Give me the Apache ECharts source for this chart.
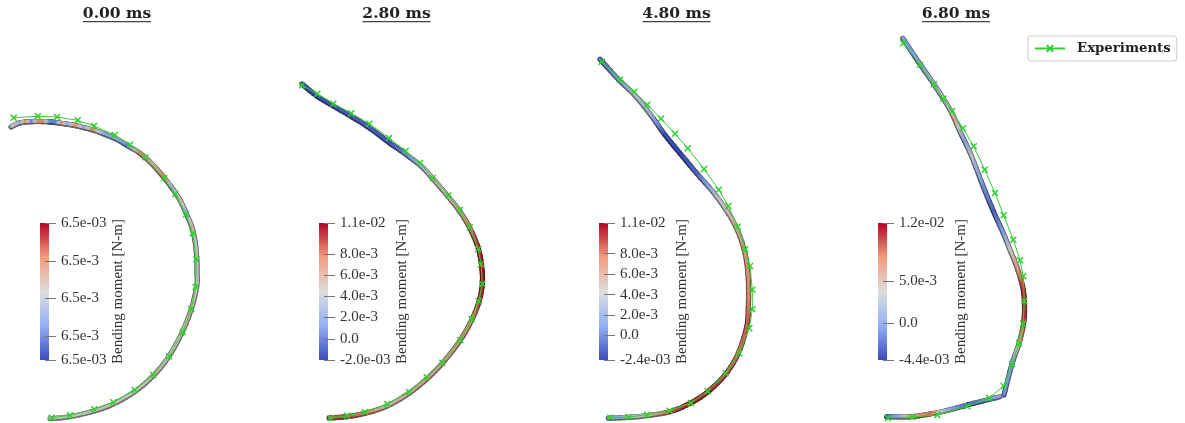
<!DOCTYPE html>
<html>
<head>
<meta charset="utf-8">
<style>
html,body{margin:0;padding:0;background:#fff}
#chart{width:1185px;height:423px;filter:blur(0.5px)}
</style>
<script src="https://cdn.jsdelivr.net/npm/echarts@6/dist/echarts.min.js"></script>
</head>
<body>
<div id="chart"></div>
<script>
// Panel titles
const titles = ['0.00 ms', '2.80 ms', '4.80 ms', '6.80 ms'];
const titleCenters = [117, 396.5, 676.5, 956];

// Experimental points [x, y] in image units
const exp0 = [[13.7,117.7],[37.7,116.3],[57,117],[77.7,120.3],[94,126],[114.7,135],[130,144.7],[145.3,157.3],[164,178],[175.3,194],[186,214.3],[192.7,233.3],[196.3,259.3],[195.7,287],[191.3,309],[182.7,332],[169,356.3],[153.3,374.7],[134.7,390],[113.3,402.3],[94.3,409.3],[70,415.3],[51.7,417.7]];
const exp1 = [[302,85.3],[317.3,93.7],[333.3,103.7],[351.3,113.3],[369.3,123.7],[389,138],[405.7,151],[420,163],[432.7,178],[448.3,195.3],[459.7,210],[469.7,227.3],[478.3,249],[481,264.3],[482.3,284],[478.7,301.3],[471.7,319],[460.3,340],[442.3,362.7],[426.7,377.3],[409,392],[387.3,404],[365,412],[347,415.7],[330.7,418]];
const exp2 = [[601.7,61.7],[620,79.7],[634.3,91.7],[647.3,104.7],[661,118.7],[675,133.7],[687.7,148.3],[704,169],[718.7,189.7],[728.3,206],[737.7,226.7],[745.3,249.3],[750,266],[752.3,289.7],[752.3,309.3],[749.3,328.3],[739.3,353.3],[725.7,373.3],[707.7,391.3],[691,403],[669.7,410.7],[647,414.7],[628.7,417],[610.3,417.7]];
const exp3 = [[903.3,43.3],[920,64.7],[934,84.3],[943.3,98.7],[952,111],[963,128.3],[973.7,146.3],[984.7,169.7],[995,193],[1003.7,215.3],[1013.3,239.7],[1020,260.3],[1023.3,276.3],[1024.3,301.3],[1023,323.7],[1019,343.3],[1012,364],[1003.7,386],[989.3,398],[967.3,406.3],[937.3,415],[912.3,417],[888,418]];

// Simulated rod centre line [x, y, bending moment N-m]
const rod0 = [[11,127,0.006495],[15,124.8,0.006505],[20,122.9,0.006495],[26,122,0.00651],[32,121.6,0.00649],[38,121.5,0.00651],[44,121.6,0.00651],[50,122,0.00649],[56,122.6,0.00649],[62,123.5,0.00651],[68,124.3,0.006495],[76,125.8,0.00651],[84,127.7,0.006495],[93,130,0.00651],[104,134,0.006495],[116.7,139.3,0.006495],[128,146,0.00649],[140,153.3,0.00651],[152,164,0.006505],[163.3,176.7,0.00651],[172,188,0.006497],[180,200,0.006505],[186,213,0.006497],[191.7,226.7,0.006505],[195,241,0.0065],[196.7,256.7,0.006503],[197,272,0.0065],[196.7,286.7,0.006502],[191,310,0.006504],[181.7,333.3,0.006503],[168.3,357.3,0.006502],[153.3,375.7,0.006504],[134.7,391.7,0.006502],[113.3,404,0.006503],[94.3,411,0.006503],[70,416.7,0.006502],[50,418.7,0.006502]];
const rod1 = [[302,84,-0.0014],[316.7,96,-0.0017],[333.3,106,-0.0014],[351.7,116.7,-0.0012],[370,128.3,-0.0010],[390,143.3,-0.0013],[406.7,155,0.0005],[421.7,166.7,0.0030],[433.3,179.3,0.0050],[448.3,196.7,0.0052],[460,211.7,0.0062],[470,228.3,0.0082],[478.3,248.3,0.0100],[481.7,266.7,0.0105],[482.3,284,0.0105],[479,301.7,0.0095],[471.7,320,0.0075],[460,340.7,0.0070],[442.3,363.3,0.0060],[426.7,379,0.0065],[409,393.3,0.0060],[387.3,406,0.0055],[365,413.3,0.0080],[346.7,416.7,0.0090],[329,418,0.0090]];
const rod2 = [[600,59.3,-0.0010],[618.3,79.3,0.0010],[635,95.5,0.0032],[650,114,0.0025],[665,135,-0.0020],[680,153.3,-0.0022],[696.7,173.3,-0.0010],[716.7,196.7,0.0035],[735,225,0.0058],[745,253.3,0.0070],[748.3,280,0.0072],[748.3,306.7,0.0080],[746.7,326.7,0.0090],[738.3,353.3,0.0082],[725,375,0.0090],[706.7,392.7,0.0100],[690,403.3,0.0100],[670,411.7,0.0090],[646.7,415.7,0.0050],[628.3,417.3,0.0032],[608.3,418.3,0.0010]];
const rod3a = [[902.7,38.3,0.0000],[918.3,61.7,0.0000],[933.3,83.3,0.0020],[948.3,106.7,0.0030],[955,120,0.0062],[960,131.7,0.0020],[965,142,0.0000],[971.7,156.7,0.0030],[983.3,186.7,-0.0010],[993.3,211,-0.0030],[1003.3,233.3,0.0000],[1010,250,0.0040],[1016.7,266.7,0.0065],[1023.3,290,0.0105],[1024.3,316.7,0.0105],[1020,340,0.0065],[1011.7,365,0.0000],[1004,395,-0.0010]];
const rod3b = [[1000,396.7,0.0010],[967.3,405,-0.0030],[945,411,0.0020],[930,414,0.0085],[912.3,416.7,0.0070],[900,417,0.0020],[886.7,416.7,-0.0030]];

// Colour bars: scale ranges, tick values and tick labels
const barLefts = [40, 319, 599, 878];
const barRanges = [[0.0064836,0.0065201],[-0.0020,0.0109],[-0.0024,0.0110],[-0.0044,0.0119]];
const barTicks0 = [0.0065201,0.00651,0.0065,0.00649,0.0064836];
const barTicks1 = [0.0109,0.008,0.006,0.004,0.002,0,-0.002];
const barTicks2 = [0.0110,0.008,0.006,0.004,0.002,0,-0.0024];
const barTicks3 = [0.0119,0.005,0,-0.0044];
const barLabels0 = ['6.5e-03','6.5e-3','6.5e-3','6.5e-3','6.5e-03'];
const barLabels1 = ['1.1e-02','8.0e-3','6.0e-3','4.0e-3','2.0e-3','0.0','-2.0e-03'];
const barLabels2 = ['1.1e-02','8.0e-3','6.0e-3','4.0e-3','2.0e-3','0.0','-2.4e-03'];
const barLabels3 = ['1.2e-02','5.0e-3','0.0','-4.4e-03'];
const barNameGaps = [66, 72, 71, 72];

const rods = [[rod0], [rod1], [rod2], [rod3a, rod3b]];
const exps = [exp0, exp1, exp2, exp3];
const barTicks = [barTicks0, barTicks1, barTicks2, barTicks3];
const barLabels = [barLabels0, barLabels1, barLabels2, barLabels3];

const GREEN = '#2fd02f';
const SERIF = '"Liberation Serif", serif';
const TITLE_FONT = '"DejaVu Serif", serif';

const STOPS = [[0,[59,76,192]],[0.25,[146,176,245]],[0.5,[221,221,221]],[0.75,[243,156,124]],[1,[180,4,38]]];
function mapColor(t, k) {
  t = Math.max(0, Math.min(1, t));
  for (let i = 1; i < STOPS.length; i++) {
    if (t <= STOPS[i][0]) {
      const a = STOPS[i-1], b = STOPS[i], f = (t - a[0]) / (b[0] - a[0]);
      const c = a[1].map((v, j) => Math.round((v + (b[1][j] - v) * f) * k));
      return 'rgb(' + c.join(',') + ')';
    }
  }
  return 'rgb(180,4,38)';
}

function rodRender(range, width, shade, lift) {
  return function (params, api) {
    const p1 = api.coord([api.value(0), api.value(1)]);
    const p2 = api.coord([api.value(3), api.value(4)]);
    const t1 = (api.value(2) - range[0]) / (range[1] - range[0]);
    const t2 = (api.value(5) - range[0]) / (range[1] - range[0]);
    return {
      type: 'line',
      shape: { x1: p1[0], y1: p1[1] - lift, x2: p2[0], y2: p2[1] - lift },
      style: {
        lineWidth: width,
        lineCap: 'round',
        fill: null,
        stroke: new echarts.graphic.LinearGradient(p1[0], p1[1], p2[0], p2[1], [
          { offset: 0, color: mapColor(t1, shade) },
          { offset: 1, color: mapColor(t2, shade) }
        ], true)
      }
    };
  };
}

// Display smoothing of the read centre line (same role as a line series' smooth option).
function segments(pieces) {
  const out = [];
  const STEPS = 5;
  pieces.forEach(function (rod) {
    for (let i = 0; i + 1 < rod.length; i++) {
      const p0 = rod[Math.max(0, i - 1)], p1 = rod[i], p2 = rod[i + 1], p3 = rod[Math.min(rod.length - 1, i + 2)];
      let prev = p1;
      for (let s = 1; s <= STEPS; s++) {
        const u = s / STEPS, u2 = u * u, u3 = u2 * u;
        const cr = function (d) {
          return 0.5 * (2 * p1[d] + (p2[d] - p0[d]) * u + (2 * p0[d] - 5 * p1[d] + 4 * p2[d] - p3[d]) * u2 + (3 * p1[d] - p0[d] - 3 * p2[d] + p3[d]) * u3);
        };
        const cur = [cr(0), cr(1), p1[2] + (p2[2] - p1[2]) * u];
        out.push(prev.concat(cur));
        prev = cur;
      }
    }
  });
  return out;
}

const grids = [{ left: 0, top: 0, width: 1185, height: 423 }];
const xAxes = [{ type: 'value', min: 0, max: 1185, show: false, gridIndex: 0 }];
const yAxes = [{ type: 'value', min: 0, max: 423, inverse: true, show: false, gridIndex: 0 }];
const series = [];

rods.forEach(function (pieces, i) {
  const segs = segments(pieces);
  const base = { type: 'custom', xAxisIndex: 0, yAxisIndex: 0, silent: true, clip: false, data: segs, encode: { x: [0, 3], y: [1, 4] }, z: 2 };
  series.push(Object.assign({}, base, { renderItem: rodRender(barRanges[i], 5.2, 0.5, 0) }));
  series.push(Object.assign({}, base, { z: 3, renderItem: rodRender(barRanges[i], 3, 0.88, 0.6) }));
});

exps.forEach(function (exp) {
  series.push({
    type: 'line', name: 'Experiments', xAxisIndex: 0, yAxisIndex: 0, data: exp, z: 5,
    symbol: 'path://M0 0L10 10M10 0L0 10', symbolSize: 6, showSymbol: true, silent: true,
    lineStyle: { color: GREEN, width: 1 },
    itemStyle: { color: GREEN, borderColor: GREEN, borderWidth: 1.6 }
  });
});

barLefts.forEach(function (left, i) {
  const g = i + 1;
  const range = barRanges[i];
  const labelMap = {};
  barTicks[i].forEach(function (v, j) { labelMap[v] = barLabels[i][j]; });
  grids.push({ left: left, top: 223, width: 9, height: 137 });
  xAxes.push({ type: 'value', gridIndex: g, min: 0, max: 1, show: false });
  yAxes.push({
    type: 'value', gridIndex: g, position: 'right', offset: -5, min: range[0], max: range[1], z: 6,
    splitLine: { show: false }, axisLine: { show: false },
    axisTick: { show: true, length: 11, customValues: barTicks[i], lineStyle: { color: '#777', width: 1 } },
    axisLabel: {
      show: true, margin: 17, customValues: barTicks[i], color: '#333',
      fontFamily: SERIF, fontSize: 15,
      formatter: function (v) { return labelMap[v]; }
    },
    name: 'Bending moment [N-m]', nameLocation: 'middle', nameRotate: 90, nameGap: barNameGaps[i],
    nameTextStyle: { fontFamily: SERIF, fontSize: 15, color: '#333' }
  });
  series.push({
    type: 'custom', xAxisIndex: g, yAxisIndex: g, silent: true, z: 1,
    data: [[0, range[0], 1, range[1]]], encode: { x: [0, 2], y: [1, 3] },
    renderItem: function (params, api) {
      const a = api.coord([api.value(0), api.value(1)]);
      const b = api.coord([api.value(2), api.value(3)]);
      return {
        type: 'rect',
        shape: { x: a[0], y: b[1], width: b[0] - a[0], height: a[1] - b[1] },
        style: { fill: new echarts.graphic.LinearGradient(0, 1, 0, 0, STOPS.map(function (s) {
          return { offset: s[0], color: 'rgb(' + s[1].join(',') + ')' };
        })) }
      };
    }
  });
});

const chart = echarts.init(document.getElementById('chart'), null, { renderer: 'canvas' });
chart.setOption({
  animation: false,
  backgroundColor: '#fff',
  title: titles.map(function (t, i) {
    return {
      text: t, left: titleCenters[i], top: 6, textAlign: 'center', padding: 0,
      textStyle: { fontFamily: TITLE_FONT, fontSize: 15.5, fontWeight: 'bold', color: '#222' }
    };
  }),
  legend: {
    show: true, data: ['Experiments'], left: 1028, top: 36, padding: [6, 6, 6, 6],
    itemWidth: 30, itemHeight: 8, borderColor: '#ccc', borderWidth: 1, borderRadius: 3,
    selectedMode: false,
    textStyle: { fontFamily: TITLE_FONT, fontSize: 13.3, fontWeight: 'bold', color: '#222', padding: [0, 0, 0, 7] }
  },
  graphic: titleCenters.map(function (c) {
    return { type: 'rect', silent: true, shape: { x: c - 34, y: 21, width: 68, height: 1.2 }, style: { fill: '#444' } };
  }),
  grid: grids, xAxis: xAxes, yAxis: yAxes, series: series
});
</script>
</body>
</html>
